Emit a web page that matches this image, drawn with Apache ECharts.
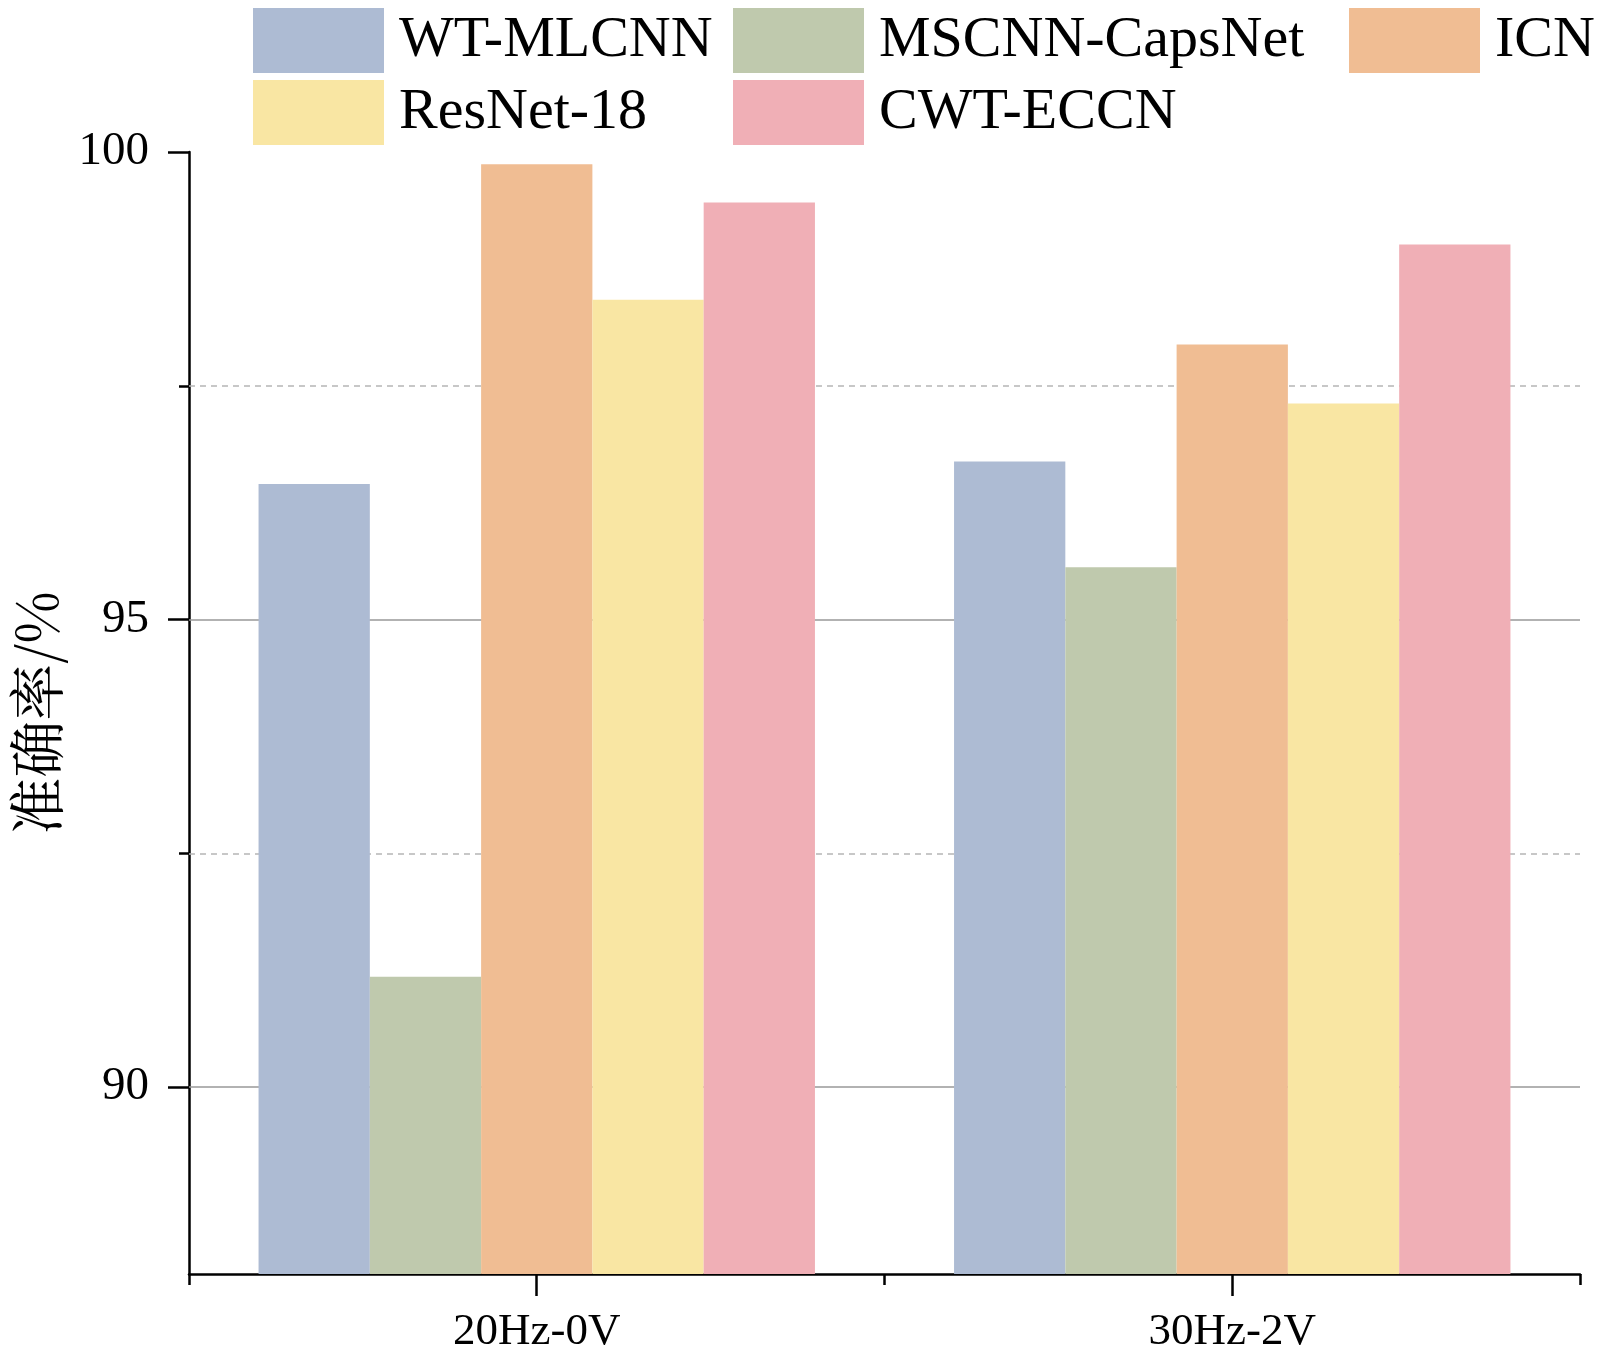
<!DOCTYPE html>
<html>
<head>
<meta charset="utf-8">
<script src="https://cdn.jsdelivr.net/npm/echarts@6/dist/echarts.min.js"></script>
<style>
  html, body { margin: 0; padding: 0; background: #ffffff; }
  #chart { width: 1600px; height: 1359px; }
</style>
</head>
<body>
<div id="chart"></div>
<script>
// ---- data ----
const categories = ['20Hz-0V', '30Hz-2V'];
const seriesNames = ['WT-MLCNN', 'MSCNN-CapsNet', 'ICN', 'ResNet-18', 'CWT-ECCN'];
const wtMlcnn = [96.45, 96.69];
const mscnnCapsNet = [91.18, 95.56];
const icn = [99.87, 97.94];
const resnet18 = [98.42, 97.31];
const cwtEccn = [99.46, 99.01];
const yLabelValues = [90, 95, 100];
const yMinorTickValues = [92.5, 97.5];
const solidGridValues = [90, 95];
const dashedGridValues = [92.5, 97.5];
const yAxisTitle = '准确率/%';

// ---- styles ----
const colors = ['#ADBBD3', '#BFC9AD', '#F0BD93', '#F9E6A3', '#F0AFB6'];
const serif = "'Liberation Serif', 'Times New Roman', serif";
const cjk = "'Noto Serif CJK SC', 'Noto Sans CJK SC', sans-serif";
const values = [wtMlcnn, mscnnCapsNet, icn, resnet18, cwtEccn];

const legendPos = [
  { left: 253, top: 8 },
  { left: 733, top: 8 },
  { left: 1349, top: 8 },
  { left: 253, top: 80 },
  { left: 733, top: 80 }
];

const legends = seriesNames.map((n, i) => ({
  data: [n],
  left: legendPos[i].left,
  top: legendPos[i].top,
  orient: 'horizontal',
  padding: 0,
  icon: 'rect',
  itemWidth: 131,
  itemHeight: 65,
  selectedMode: false,
  textStyle: { fontFamily: serif, fontSize: 58, color: '#000', padding: [0, 0, 0, 10] }
}));

const barSeries = seriesNames.map((n, i) => ({
  name: n,
  type: 'bar',
  data: values[i],
  xAxisIndex: 0,
  yAxisIndex: 0,
  barGap: '0%',
  barCategoryGap: '20%',
  z: 2,
  itemStyle: { color: colors[i] }
}));

const gridLineSeries = {
  name: 'grid-lines',
  type: 'line',
  data: [],
  xAxisIndex: 0,
  yAxisIndex: 0,
  z: 1,
  silent: true,
  markLine: {
    silent: true,
    z: 1,
    symbol: ['none', 'none'],
    label: { show: false },
    emphasis: { disabled: true },
    data: solidGridValues.map(v => ({ yAxis: v, lineStyle: { color: '#999999', width: 1.5, type: 'solid' } }))
      .concat(dashedGridValues.map(v => ({ yAxis: v, lineStyle: { color: '#b5b5b5', width: 1.5, type: [6, 5] } })))
  }
};

const chart = echarts.init(document.getElementById('chart'), null, { renderer: 'canvas' });
chart.setOption({
  backgroundColor: '#ffffff',
  animation: false,
  color: colors,
  legend: legends,
  grid: { left: 188, right: 20, top: 152, bottom: 85, containLabel: false },
  xAxis: [
    {
      type: 'category',
      data: categories,
      position: 'bottom',
      axisLine: { show: true, lineStyle: { color: '#000', width: 2.5 } },
      axisTick: { show: true, alignWithLabel: true, length: 22, lineStyle: { color: '#000', width: 2.5 } },
      axisLabel: { fontFamily: serif, fontSize: 45, color: '#000', margin: 36 },
      splitLine: { show: false }
    },
    {
      type: 'category',
      data: categories,
      position: 'bottom',
      axisLine: { show: false },
      axisTick: { show: true, length: 11, lineStyle: { color: '#000', width: 2.5 } },
      axisLabel: { show: false },
      splitLine: { show: false }
    }
  ],
  yAxis: [
    {
      type: 'value',
      position: 'left',
      min: 88,
      max: 100,
      name: yAxisTitle,
      nameLocation: 'middle',
      nameGap: 124,
      nameTextStyle: { fontFamily: cjk, fontSize: 57, color: '#000' },
      axisLine: { show: true, lineStyle: { color: '#000', width: 2.5 } },
      axisTick: { show: true, customValues: yLabelValues, length: 21, lineStyle: { color: '#000', width: 2.5 } },
      axisLabel: { customValues: yLabelValues, fontFamily: serif, fontSize: 47, color: '#000', margin: 40 },
      splitLine: { show: false }
    },
    {
      type: 'value',
      position: 'left',
      min: 88,
      max: 100,
      axisLine: { show: false },
      axisTick: { show: true, customValues: yMinorTickValues, length: 10, lineStyle: { color: '#000', width: 2.5 } },
      axisLabel: { show: false },
      splitLine: { show: false }
    }
  ],
  series: barSeries.concat([gridLineSeries])
});
</script>
</body>
</html>
